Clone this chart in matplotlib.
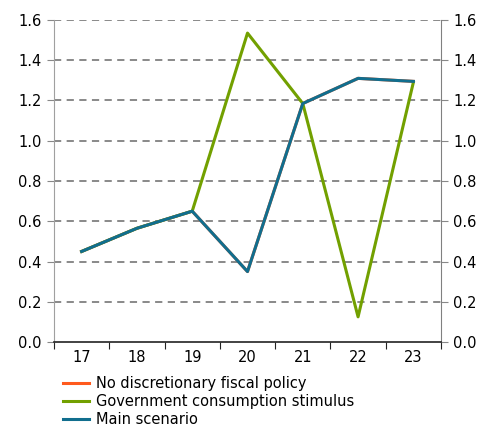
import matplotlib
matplotlib.use("Agg")
import matplotlib.pyplot as plt
import numpy as np

years = ["17", "18", "19", "20", "21", "22", "23"]
no_policy = [0.45, 0.565, 0.65, 0.35, 1.185, 1.31, 1.295]
gov_stimulus = [0.45, 0.565, 0.65, 1.535, 1.185, 0.125, 1.29]
main_scenario = [0.45, 0.565, 0.65, 0.35, 1.185, 1.31, 1.295]

plt.rcParams['font.family'] = ['DejaVu Sans']
plt.rcParams['font.size'] = 10.5

fig = plt.figure(figsize=(4.89, 4.26), dpi=100)
ax = fig.add_axes([54 / 489, 1 - 342 / 426, (441 - 54) / 489, (342 - 20) / 426])

x = np.arange(len(years))
ax.plot(x, no_policy, color="#ff5a1e", lw=2.2, label="No discretionary fiscal policy")
ax.plot(x, gov_stimulus, color="#72a000", lw=2.2, label="Government consumption stimulus")
ax.plot(x, main_scenario, color="#116e8e", lw=2.2, label="Main scenario")

ax.set_xlim(-0.5, 6.5)
ax.set_ylim(0, 1.6)
yt = np.arange(0, 1.61, 0.2)
ax.set_yticks(yt)
ax.set_yticklabels([f"{v:.1f}" for v in yt])
for v in yt[1:]:
    ax.axhline(v, color="#808080", lw=1.3, ls=(0, (4, 3)), zorder=0)

ax.set_xticks(np.arange(-0.5, 7, 1))
ax.set_xticklabels([])
ax.set_xticks(x, minor=True)
ax.set_xticklabels(years, minor=True)
ax.tick_params(axis="x", which="minor", length=0, pad=6)
ax.tick_params(axis="x", which="major", length=5, color="#222222")
ax.tick_params(axis="y", length=5, color="#888888", left=True, right=True,
               labelleft=True, labelright=True, pad=4)

ax.spines["top"].set_visible(False)
ax.spines["left"].set_color("#a0a0a0")
ax.spines["right"].set_color("#808080")
ax.spines["bottom"].set_color("#222222")
ax.spines["bottom"].set_linewidth(1.2)

fig.legend(loc="upper left", bbox_to_anchor=(57 / 489, 1 - 370 / 426), frameon=False,
           handlelength=1.8, handletextpad=0.5, labelspacing=0.2, borderaxespad=0)

fig.savefig("out.png", dpi=100)
